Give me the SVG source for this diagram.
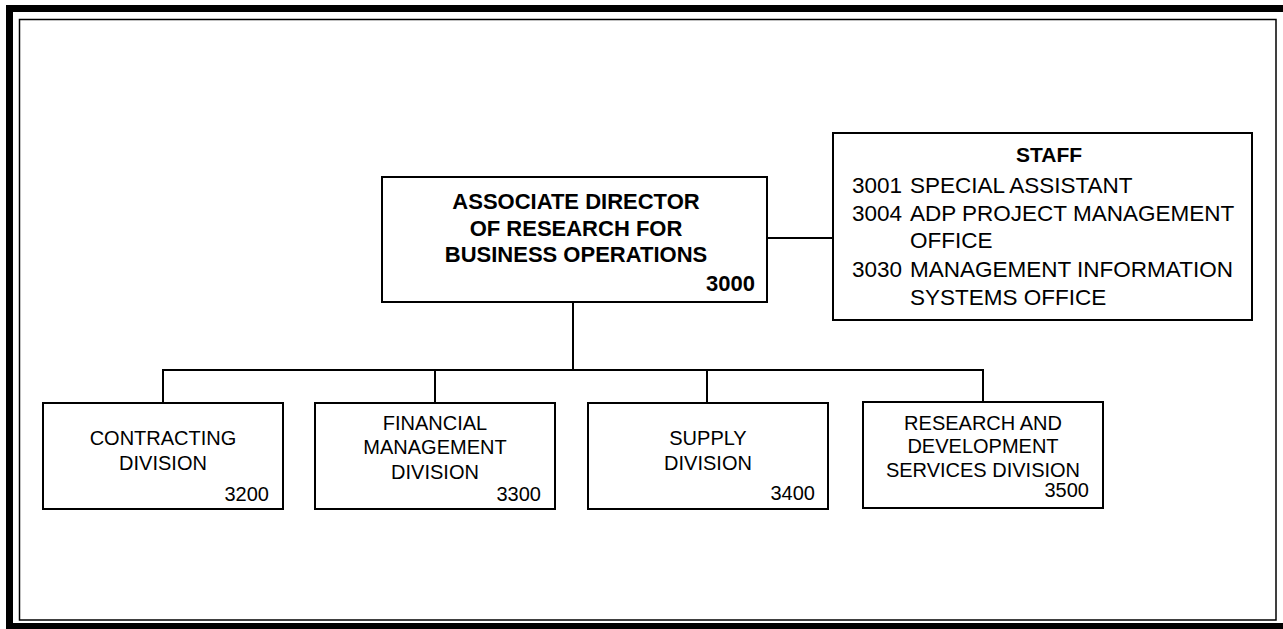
<svg xmlns="http://www.w3.org/2000/svg" width="1283" height="629" viewBox="0 0 1283 629">
<style>
.box{fill:#fff;stroke:#000;stroke-width:2}
.conn{fill:none;stroke:#000;stroke-width:2}
.t{font-family:"Liberation Sans",Arial,sans-serif;fill:#000}
.b{font-weight:bold;font-size:22px}
.s{font-size:22.5px}
.d{font-size:20px}
.c{text-anchor:middle}
.r{text-anchor:end}
</style>
<rect width="1283" height="629" fill="#fff"/>
<g id="frame">
<rect x="6" y="5" width="1277" height="7" fill="#000"/>
<rect x="6" y="5" width="7" height="624" fill="#000"/>
<rect x="6" y="623" width="1277" height="6" fill="#000"/>
<rect x="19.5" y="19.5" width="1256.5" height="600.5" fill="none" stroke="#000" stroke-width="1.5"/>
</g>
<g id="connectors">
<line class="conn" x1="767" y1="238" x2="833" y2="238"/>
<line class="conn" x1="573" y1="302" x2="573" y2="370"/>
<polyline class="conn" points="163,403 163,370 983,370 983,403"/>
<line class="conn" x1="435" y1="370" x2="435" y2="403"/>
<line class="conn" x1="707" y1="370" x2="707" y2="403"/>
</g>
<g id="n3000">
<rect class="box" x="382" y="177" width="385" height="125"/>
<text class="t b c" x="576" y="209">ASSOCIATE DIRECTOR</text>
<text class="t b c" x="576" y="236">OF RESEARCH FOR</text>
<text class="t b c" x="576" y="262">BUSINESS OPERATIONS</text>
<text class="t b r" x="755" y="291">3000</text>
</g>
<g id="staff">
<rect class="box" x="833" y="133" width="419" height="187"/>
<text class="t b c" x="1049" y="162" style="font-size:21px">STAFF</text>
<text class="t s" x="852" y="193">3001</text>
<text class="t s" x="910" y="193">SPECIAL ASSISTANT</text>
<text class="t s" x="852" y="221">3004</text>
<text class="t s" x="910" y="221">ADP PROJECT MANAGEMENT</text>
<text class="t s" x="910" y="248">OFFICE</text>
<text class="t s" x="852" y="277">3030</text>
<text class="t s" x="910" y="277">MANAGEMENT INFORMATION</text>
<text class="t s" x="910" y="305">SYSTEMS OFFICE</text>
</g>
<g id="n3200">
<rect class="box" x="43" y="403" width="240" height="106"/>
<text class="t d c" x="163" y="445">CONTRACTING</text>
<text class="t d c" x="163" y="470">DIVISION</text>
<text class="t d r" x="269" y="501">3200</text>
</g>
<g id="n3300">
<rect class="box" x="315" y="403" width="240" height="106"/>
<text class="t d c" x="435" y="430">FINANCIAL</text>
<text class="t d c" x="435" y="454">MANAGEMENT</text>
<text class="t d c" x="435" y="479">DIVISION</text>
<text class="t d r" x="541" y="501">3300</text>
</g>
<g id="n3400">
<rect class="box" x="588" y="403" width="240" height="106"/>
<text class="t d c" x="708" y="445">SUPPLY</text>
<text class="t d c" x="708" y="470">DIVISION</text>
<text class="t d r" x="815" y="500">3400</text>
</g>
<g id="n3500">
<rect class="box" x="863" y="402" width="240" height="106"/>
<text class="t d c" x="983" y="430">RESEARCH AND</text>
<text class="t d c" x="983" y="453">DEVELOPMENT</text>
<text class="t d c" x="983" y="477">SERVICES DIVISION</text>
<text class="t d r" x="1089" y="497">3500</text>
</g>
</svg>
